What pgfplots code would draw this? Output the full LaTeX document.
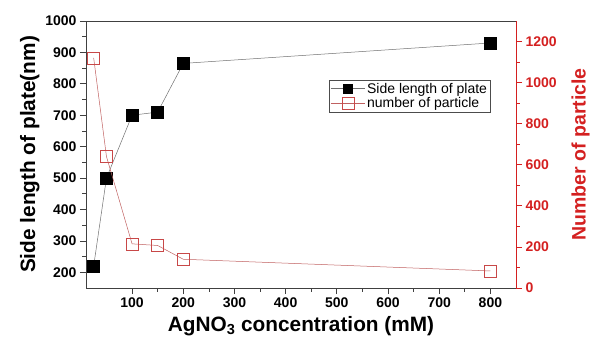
\documentclass[border=0pt]{standalone}
\usepackage{pgfplots}
\pgfplotsset{compat=1.18}
\usepackage{fontspec}
\setmainfont{Liberation Sans}
\definecolor{axred}{HTML}{D42020}
\definecolor{linered}{HTML}{C06060}
\definecolor{mkred}{HTML}{C84848}
\definecolor{linegray}{HTML}{707070}
\begin{document}
\begin{tikzpicture}
\path[use as bounding box] (-86pt,-55pt) rectangle (511pt,288pt);
\begin{axis}[
  at={(0,0)}, anchor=south west,
  scale only axis, width=430pt, height=267pt,
  xmin=10, xmax=850, ymin=150, ymax=1000,
  xtick={100,200,...,800}, ytick={200,300,...,1000},
  minor x tick num=1, minor y tick num=1,
  xtick pos=bottom, ytick pos=left, tick align=outside,
  major tick length=6pt, minor tick length=3.5pt,
  /pgf/number format/assume math mode=true,
  /pgf/number format/1000 sep={},
  tick label style={font=\bfseries\fontsize{14}{14}\selectfont},
  xlabel={AgNO\textsubscript{3} concentration (mM)},
  ylabel={Side length of plate(nm)},
  label style={font=\bfseries\fontsize{20.8}{21}\selectfont},
  xlabel style={yshift=-2pt},
  ylabel style={yshift=-1pt},
  axis line style={line width=0.8pt, black!75},
  every tick/.style={black!75, line width=0.7pt},
]
\addplot[linegray, line width=0.5pt, mark=square*, mark size=6pt,
  mark options={fill=black, draw=black, solid}] coordinates {
  (25,220) (50,500) (100,700) (150,710) (200,865) (800,930)
};
\end{axis}
\begin{axis}[
  at={(0,0)}, anchor=south west,
  scale only axis, width=430pt, height=267pt,
  xmin=10, xmax=850, ymin=0, ymax=1300,
  axis x line=none, axis y line*=right,
  ytick={0,200,...,1200}, minor y tick num=1,
  tick align=outside,
  major tick length=6pt, minor tick length=3.5pt,
  /pgf/number format/assume math mode=true,
  /pgf/number format/1000 sep={},
  tick label style={font=\bfseries\fontsize{14}{14}\selectfont, text=axred},
  ylabel={Number of particle},
  ylabel style={font=\bfseries\fontsize{19.5}{20}\selectfont, text=axred, yshift=-8pt},
  axis line style={line width=0.8pt, axred},
  every tick/.style={axred, line width=0.7pt},
  legend style={at={(0.94,0.78)}, anchor=north east, draw=black!70,
    font=\fontsize{14}{14}\selectfont, inner sep=1pt,
    row sep=-1.5pt, cells={anchor=west}},
  legend cell align=left,
  legend image code/.code={%
    \draw[#1, mark=none] (0pt,0pt) -- (34pt,0pt);
    \draw[#1] plot coordinates {(17pt,0pt)};},
]
\addlegendimage{linegray, line width=0.6pt, mark=square*, mark size=4.6pt,
  mark options={fill=black, draw=black, solid}}
\addlegendentry{Side length of plate}
\addplot[linered, line width=0.5pt, mark=square, mark size=6pt,
  mark options={draw=mkred, fill=white, solid, line width=0.6pt}] coordinates {
  (25,1120) (50,640) (100,215) (150,207) (200,140) (800,83)
};
\addlegendentry{number of particle}
\end{axis}
\end{tikzpicture}
\end{document}
